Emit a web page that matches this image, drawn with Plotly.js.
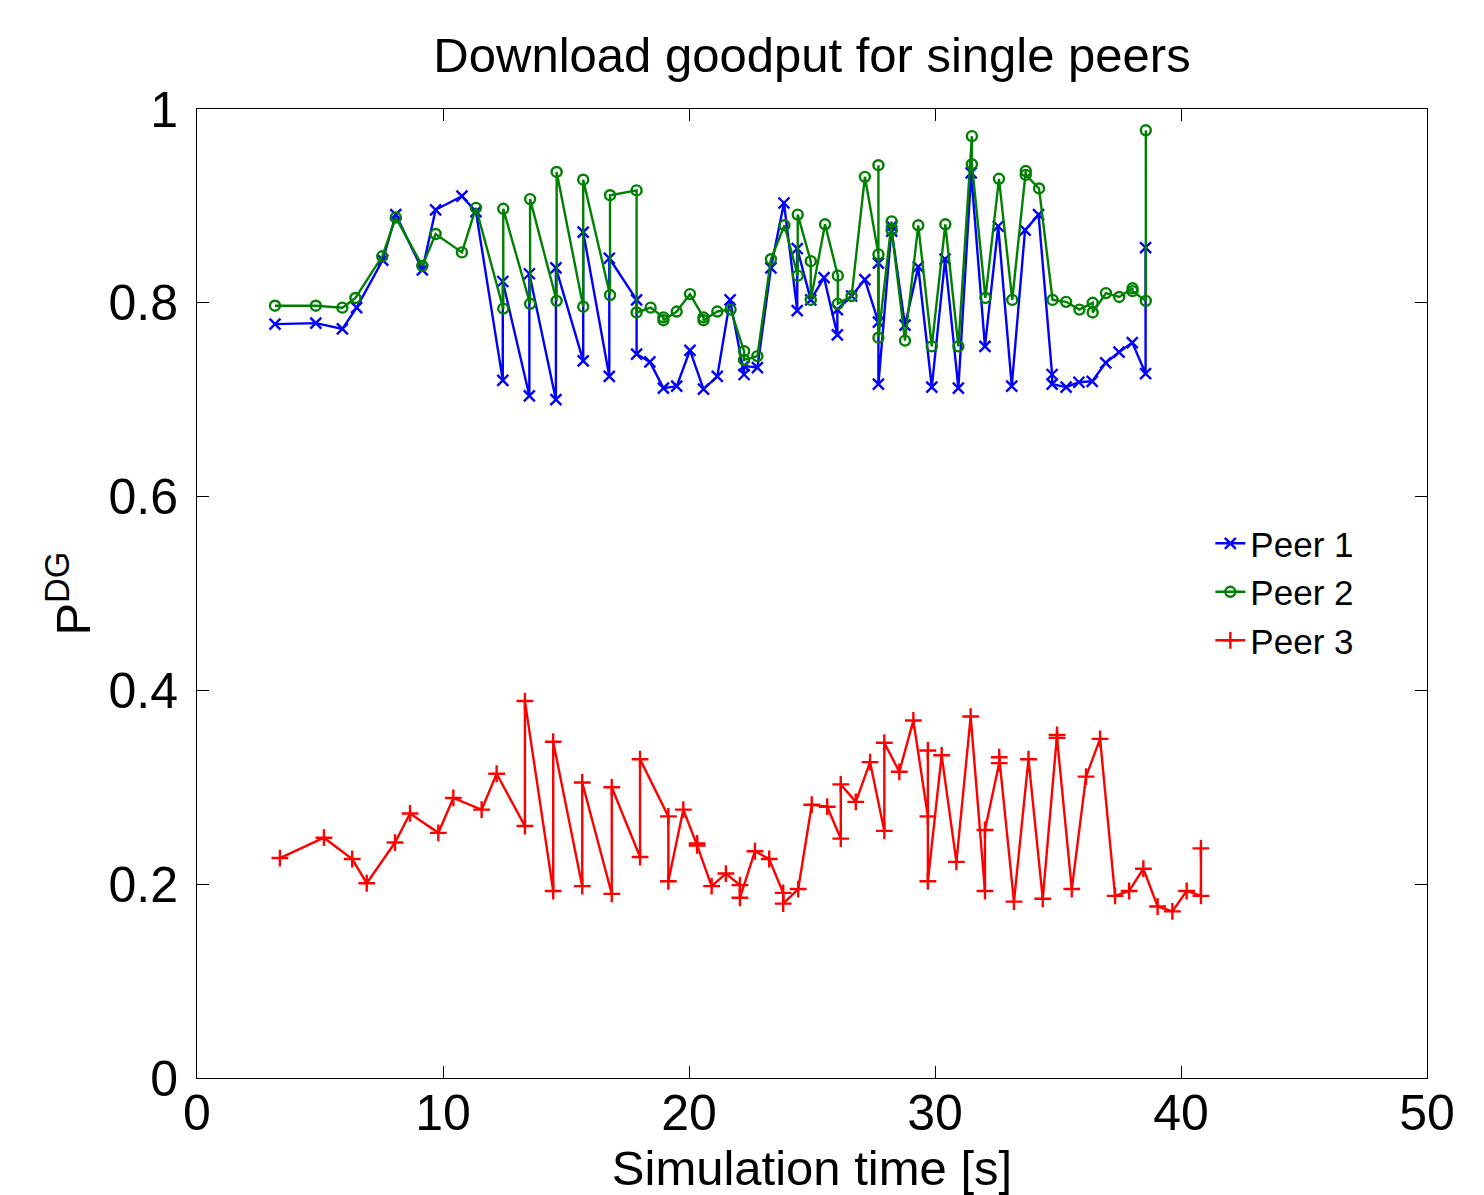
<!DOCTYPE html>
<html>
<head>
<meta charset="utf-8">
<script src="https://cdn.plot.ly/plotly-3.0.1.min.js"></script>
<style>html,body{margin:0;padding:0;background:#fff;}#chart{width:1484px;height:1195px;}</style>
</head>
<body>
<div id="chart"></div>
<script>
// Peer 1 (blue, x markers)
const peer1Time = [3.17,4.83,5.91,6.49,7.55,8.08,9.16,9.70,10.77,11.34,12.43,12.43,13.51,13.51,14.59,14.59,15.70,15.70,16.76,16.76,17.87,17.87,18.41,18.96,19.50,20.04,20.59,21.15,21.67,22.24,22.24,22.78,23.33,23.86,24.40,24.40,24.95,25.49,26.03,26.03,26.61,27.15,27.70,27.70,27.70,28.24,28.24,28.78,29.32,29.87,30.41,30.95,31.47,32.03,32.57,33.12,33.66,34.21,34.76,34.76,35.33,35.85,36.39,36.94,37.48,38.02,38.56,38.56];
const peer1Value = [0.778,0.779,0.773,0.795,0.844,0.891,0.834,0.896,0.910,0.894,0.720,0.822,0.704,0.830,0.700,0.836,0.740,0.873,0.724,0.846,0.803,0.747,0.739,0.712,0.714,0.751,0.711,0.724,0.803,0.726,0.735,0.733,0.836,0.903,0.792,0.856,0.803,0.826,0.767,0.793,0.807,0.824,0.780,0.841,0.716,0.879,0.874,0.777,0.837,0.713,0.845,0.712,0.934,0.755,0.879,0.714,0.875,0.891,0.726,0.716,0.713,0.718,0.719,0.738,0.749,0.759,0.727,0.857];

// Peer 2 (green, open circles)
const peer2Time = [3.17,4.83,5.91,6.44,7.53,8.08,9.16,9.70,10.77,11.34,12.45,12.45,13.54,13.54,14.62,14.62,15.70,15.70,16.79,16.79,17.87,17.87,18.44,18.96,18.96,19.50,20.04,20.59,20.59,21.15,21.69,22.24,22.24,22.78,23.33,23.88,24.42,24.42,24.95,24.95,25.53,26.05,26.05,26.61,27.15,27.70,27.70,27.70,28.24,28.24,28.78,29.32,29.87,30.42,30.95,31.50,31.50,32.05,32.60,33.14,33.69,33.69,34.23,34.78,35.33,35.87,36.41,36.41,36.95,37.49,38.03,38.03,38.57,38.57];
const peer2Value = [0.797,0.797,0.795,0.805,0.848,0.888,0.838,0.871,0.852,0.898,0.794,0.897,0.799,0.907,0.802,0.935,0.796,0.927,0.808,0.911,0.916,0.790,0.795,0.785,0.782,0.791,0.809,0.785,0.782,0.791,0.793,0.750,0.741,0.745,0.845,0.880,0.828,0.891,0.843,0.803,0.881,0.828,0.799,0.807,0.930,0.850,0.942,0.764,0.884,0.875,0.761,0.880,0.755,0.881,0.755,0.972,0.943,0.805,0.928,0.803,0.936,0.932,0.918,0.803,0.801,0.793,0.800,0.790,0.810,0.806,0.815,0.812,0.802,0.978];

// Peer 3 (red, + markers)
const peer3Time = [3.37,5.16,6.31,6.90,8.05,8.66,9.81,10.42,11.57,12.18,13.33,13.33,14.48,14.48,15.66,15.66,16.86,16.86,18.01,18.01,19.16,19.16,19.77,20.33,20.33,20.92,21.50,22.07,22.07,22.68,23.26,23.83,23.83,24.44,24.99,25.62,26.17,26.17,26.78,27.36,27.94,27.94,28.55,29.12,29.71,29.71,29.71,30.27,30.87,31.45,32.03,32.03,32.61,32.61,33.21,33.80,34.38,34.96,34.96,35.56,36.14,36.71,37.32,37.89,38.47,39.05,39.65,40.23,40.81,40.81];
const peer3Value = [0.227,0.248,0.226,0.201,0.243,0.273,0.253,0.289,0.277,0.314,0.260,0.389,0.193,0.347,0.198,0.305,0.190,0.300,0.228,0.329,0.270,0.203,0.277,0.242,0.240,0.198,0.211,0.199,0.186,0.234,0.226,0.191,0.180,0.195,0.282,0.280,0.247,0.303,0.285,0.326,0.255,0.346,0.316,0.369,0.270,0.338,0.203,0.333,0.223,0.373,0.193,0.256,0.325,0.331,0.182,0.329,0.185,0.354,0.351,0.195,0.311,0.350,0.188,0.193,0.216,0.177,0.172,0.193,0.188,0.237];

const seriesNames = ["Peer 1", "Peer 2", "Peer 3"];
const xTickValues = [0, 10, 20, 30, 40, 50];
const yTickValues = [0, 0.2, 0.4, 0.6, 0.8, 1];

const FONT = "Liberation Sans, Arial, Helvetica, sans-serif";

const traces = [
  {
    x: peer1Time, y: peer1Value, name: seriesNames[0], type: "scatter", mode: "lines+markers",
    line: {color: "#0000ff", width: 2.4},
    marker: {symbol: "x-thin", size: 11, color: "#0000ff", line: {color: "#0000ff", width: 2.4}}
  },
  {
    x: peer2Time, y: peer2Value, name: seriesNames[1], type: "scatter", mode: "lines+markers",
    line: {color: "#008000", width: 2.4},
    marker: {symbol: "circle-open", size: 10, color: "#008000", line: {color: "#008000", width: 2.4}}
  },
  {
    x: peer3Time, y: peer3Value, name: seriesNames[2], type: "scatter", mode: "lines+markers",
    line: {color: "#ff0000", width: 2.4},
    marker: {symbol: "cross-thin", size: 12, color: "#ff0000", line: {color: "#ff0000", width: 2.4}}
  }
];

const axisCommon = {
  showgrid: false, zeroline: false,
  showline: true, linecolor: "#000", linewidth: 1,
  mirror: "ticks",
  ticks: "inside", ticklen: 12, tickwidth: 1, tickcolor: "#000",
  tickfont: {family: FONT, size: 50, color: "#000"}
};

const layout = {
  width: 1484, height: 1195,
  margin: {l: 197, r: 57, t: 109, b: 117},
  paper_bgcolor: "#fff", plot_bgcolor: "#fff",
  font: {family: FONT, color: "#000"},
  title: {
    text: "Download goodput for single peers",
    font: {family: FONT, size: 49, color: "#000"},
    x: 0.5, xref: "paper", xanchor: "center",
    y: 0.954, yref: "container", yanchor: "middle"
  },
  xaxis: Object.assign({}, axisCommon, {
    range: [0, 50], tickvals: xTickValues, ticklabelstandoff: -9,
    title: {text: "Simulation time [s]", font: {family: FONT, size: 49, color: "#000"}, standoff: 19}
  }),
  yaxis: Object.assign({}, axisCommon, {
    range: [0, 1], tickvals: yTickValues, ticklabelstandoff: 8,
    title: {text: "P<sup>DG</sup>", font: {family: FONT, size: 49, color: "#000"}, standoff: 2}
  }),
  showlegend: true,
  legend: {
    x: 0.945, xanchor: "right", y: 0.582, yanchor: "top",
    bgcolor: "rgba(0,0,0,0)", borderwidth: 0,
    font: {family: FONT, size: 35, color: "#000"},
    traceorder: "normal"
  }
};

Plotly.newPlot("chart", traces, layout, {displayModeBar: false, staticPlot: true});
</script>
</body>
</html>
